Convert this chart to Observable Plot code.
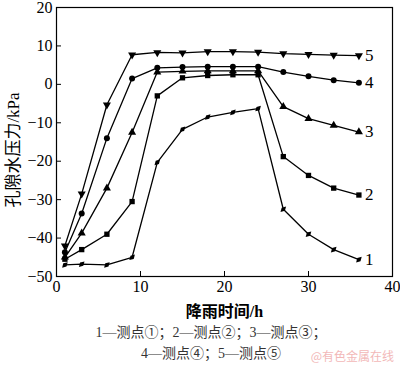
<!DOCTYPE html>
<html><head><meta charset="utf-8">
<script src="https://cdn.jsdelivr.net/npm/d3@7"></script>
<script src="https://cdn.jsdelivr.net/npm/@observablehq/plot@0.6"></script>
<style>
body{margin:0;background:#fff;width:400px;font-family:"Liberation Serif","DejaVu Serif","Noto Sans CJK SC",serif;}
#cap{position:relative;text-align:center;color:#333;font-size:14px;line-height:21px;padding-left:22px;margin-top:2px}
#wm{position:absolute;right:6px;top:347px;color:#f2b8b8;font-size:12px;font-family:"Noto Sans CJK SC",sans-serif}
svg text{font-family:"Liberation Serif","DejaVu Serif","Noto Sans CJK SC",serif !important;}
</style></head>
<body>
<div id="chart"></div>
<div id="cap">1—测点①；2—测点②；3—测点③；<br>4—测点④；5—测点⑤</div>
<div id="wm">@有色金属在线</div>
<script>
const hours = [1, 3, 6, 9, 12, 15, 18, 21, 24, 27, 30, 33, 36];
const s1 = [-47, -46.8, -47, -45, -20.3, -11.7, -8.5, -7.3, -6.3, -32.5, -39, -43, -45.6];
const s2 = [-45.5, -43, -39, -30.5, -3, 1.7, 2.3, 2.5, 2.5, -18.8, -23.7, -27, -28.8];
const s3 = [-45, -38.7, -27, -12.5, 3.2, 3.4, 3.5, 3.5, 3.5, -5.8, -8.9, -10.7, -12.4];
const s4 = [-43.7, -33.6, -14, 1.5, 4.3, 4.5, 4.6, 4.6, 4.6, 3.2, 2.1, 1.1, 0.4];
const s5 = [-42, -28.5, -5.3, 7.7, 8.3, 8.2, 8.5, 8.5, 8.4, 8, 7.8, 7.6, 7.5];
const seriesNames = ["1", "2", "3", "4", "5"];
const seriesVals = [s1, s2, s3, s4, s5];
const symbols = ["diamond", "square", "triangle", "circle", "triangle"];
const rotations = [45, 0, 0, 0, 180];
const sizes = [2.4, 3, 3, 3, 3];

const data = [];
seriesVals.forEach((vals, i) => vals.forEach((v, j) => data.push({s: seriesNames[i], x: hours[j], y: v, sym: symbols[i], rot: rotations[i], r: sizes[i]})));
const last = data.filter(d => d.x === hours[hours.length - 1]);

const chart = Plot.plot({
  width: 400, height: 320,
  marginLeft: 56, marginRight: 8, marginTop: 7, marginBottom: 44,
  style: {fontSize: "16px", color: "#000", background: "#fff", overflow: "visible"},
  x: {domain: [0, 40], ticks: [0, 10, 20, 30, 40], label: "降雨时间/h", labelAnchor: "center", labelArrow: "none", labelOffset: 40, tickSize: -5, tickPadding: 9},
  y: {domain: [-50, 20], ticks: [-50, -40, -30, -20, -10, 0, 10, 20], label: "孔隙水压力/kPa", labelAnchor: "center", labelArrow: "none", labelOffset: 50, tickSize: -5, tickPadding: 9},
  r: {type: "identity"},
  symbol: {type: "identity"},
  marks: [
    Plot.frame({stroke: "#000", strokeWidth: 1.2}),
    Plot.line(data, {x: "x", y: "y", z: "s", stroke: "#000", strokeWidth: 1.3}),
    Plot.dot(data, {x: "x", y: "y", symbol: "sym", rotate: "rot", r: "r", fill: "#000", stroke: "none"}),
    Plot.text(last, {x: "x", y: "y", text: "s", dx: 6, textAnchor: "start", fontSize: 17, fill: "#000"})
  ]
});
d3.select(chart).selectAll("[aria-label='x-axis label'] text").style("font-weight", "bold").style("font-size", "16px");
d3.select(chart).selectAll("[aria-label='y-axis label'] text").style("font-size", "17px");
d3.select(chart).selectAll("[aria-label='y-axis label']").attr("transform", (d, i, n) => (n[i].getAttribute("transform") || "") + " translate(0,8)");
document.getElementById("chart").appendChild(chart);
</script>
</body></html>
